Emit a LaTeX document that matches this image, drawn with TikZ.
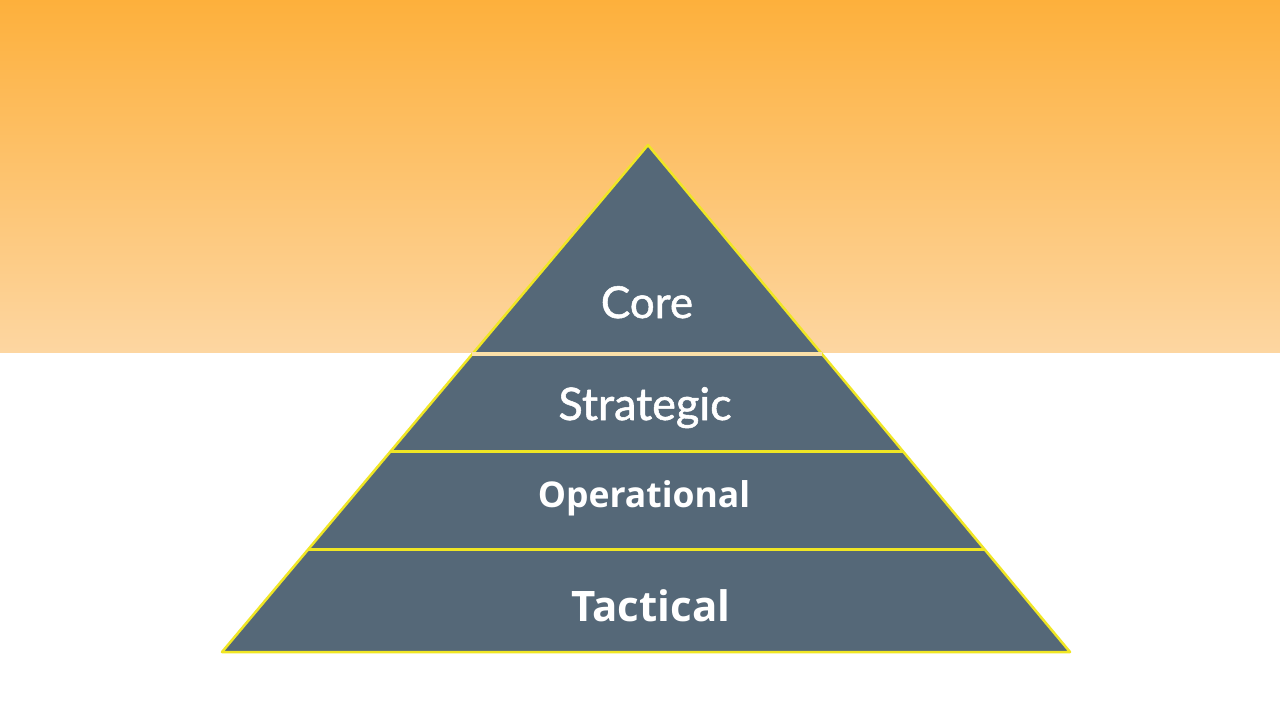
\documentclass[tikz,border=0pt]{standalone}
\usepackage{fontspec}
\usepackage{tikz}
\usetikzlibrary{calc}
\newfontfamily\corefont{Lato}[FakeBold=1.2]
\newfontfamily\boldfont{Open Sans}

\definecolor{skytop}{HTML}{FDB03C}
\definecolor{skybottom}{HTML}{FDD6A1}
\definecolor{slate}{HTML}{556878}
\definecolor{rim}{HTML}{F0E624}
\definecolor{cream}{HTML}{FBE0A8}

\tikzset{
  layer label/.style={text=white, inner sep=0pt, anchor=base},
  rimline/.style={draw=rim, line width=3pt}
}

\begin{document}
\begin{tikzpicture}[x=1pt, y=-1pt]
    % Hintergrund
    \fill[white] (0,0) rectangle (1280,720);
    \useasboundingbox (0,0) rectangle (1280,720);
    \shade[top color=skytop, bottom color=skybottom] (0,0) rectangle (1280,352);

    % Pyramide
    \coordinate (apex) at (648,145);
    \coordinate (baseL) at (222,652);
    \coordinate (baseR) at (1070,652);
    \filldraw[fill=slate, draw=rim, line width=2.5pt, line join=round] (apex) -- (baseL) -- (baseR) -- cycle;

    % Trennlinien
    \coordinate (c1L) at ($(apex)!0.4122!(baseL)$);
    \coordinate (c1R) at ($(apex)!0.4122!(baseR)$);
    \coordinate (c2L) at ($(apex)!0.6055!(baseL)$);
    \coordinate (c2R) at ($(apex)!0.6055!(baseR)$);
    \coordinate (c3L) at ($(apex)!0.7988!(baseL)$);
    \coordinate (c3R) at ($(apex)!0.7988!(baseR)$);
    \draw[draw=cream, line width=3.5pt] (c1L) -- (c1R);
    \draw[rimline] (c2L) -- (c2R);
    \draw[rimline] (c3L) -- (c3R);

    % Beschriftungen
    \node[layer label, font=\corefont\fontsize{44}{44}\selectfont] (core) at (647,318) {Core};
    \node[layer label, font=\corefont\fontsize{45}{45}\selectfont] (strategic) at (645,420) {Strategic};
    \node[layer label, font=\boldfont\bfseries\fontsize{35.5}{35.5}\selectfont] (operational) at (644,507) {Operational};
    \node[layer label, font=\boldfont\bfseries\fontsize{42}{42}\selectfont] (tactical) at (651,621) {Tactical};
\end{tikzpicture}
\end{document}
